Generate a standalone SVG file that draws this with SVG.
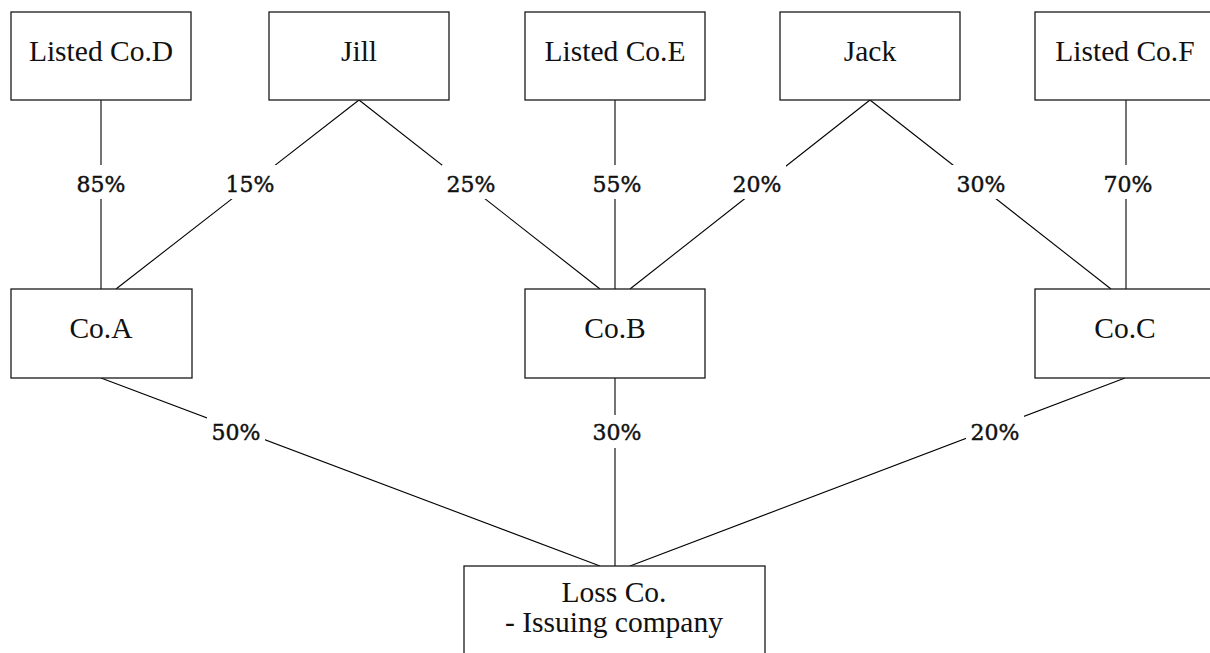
<svg xmlns="http://www.w3.org/2000/svg" width="1210" height="653" viewBox="0 0 1210 653">
  <style>
    .box { fill: #ffffff; stroke: #1a1a1a; stroke-width: 1.3; }
    .name { font-family: "Liberation Serif", "Times New Roman", serif; font-size: 29.5px; fill: #111111; text-anchor: middle; }
    .link { stroke: #000000; stroke-width: 1.1; fill: none; }
    .pct-bg { fill: #ffffff; }
    .pct { font-family: "DejaVu Serif", "Liberation Serif", serif; font-size: 22px; fill: #111111; stroke: #111111; stroke-width: 0.45; text-anchor: middle; }
  </style>
  <rect width="1210" height="653" fill="#ffffff"/>

  <!-- ownership links -->
  <g id="connectors">
    <line class="link" x1="101" y1="100" x2="101" y2="289"/>
    <line class="link" x1="359" y1="100" x2="116" y2="289"/>
    <line class="link" x1="359" y1="100" x2="600" y2="289"/>
    <line class="link" x1="615" y1="100" x2="615" y2="289"/>
    <line class="link" x1="870" y1="100" x2="630" y2="289"/>
    <line class="link" x1="870" y1="100" x2="1111" y2="289"/>
    <line class="link" x1="1126" y1="100" x2="1126" y2="289"/>
    <line class="link" x1="101" y1="378" x2="600" y2="566"/>
    <line class="link" x1="615" y1="378" x2="615" y2="566"/>
    <line class="link" x1="1125" y1="378" x2="630" y2="566"/>

    <!-- percentage labels on white backing -->
    <g id="labels">
      <rect class="pct-bg" x="72" y="165" width="58" height="34"/>
      <text class="pct" x="101" y="192">85%</text>
      <rect class="pct-bg" x="221" y="165" width="58" height="34"/>
      <text class="pct" x="250" y="192">15%</text>
      <rect class="pct-bg" x="442" y="165" width="58" height="34"/>
      <text class="pct" x="471" y="192">25%</text>
      <rect class="pct-bg" x="588" y="165" width="58" height="34"/>
      <text class="pct" x="617" y="192">55%</text>
      <rect class="pct-bg" x="728" y="165" width="58" height="34"/>
      <text class="pct" x="757" y="192">20%</text>
      <rect class="pct-bg" x="952" y="165" width="58" height="34"/>
      <text class="pct" x="981" y="192">30%</text>
      <rect class="pct-bg" x="1099" y="165" width="58" height="34"/>
      <text class="pct" x="1128" y="192">70%</text>
      <rect class="pct-bg" x="207" y="415" width="58" height="33"/>
      <text class="pct" x="236" y="440">50%</text>
      <rect class="pct-bg" x="588" y="415" width="58" height="33"/>
      <text class="pct" x="617" y="440">30%</text>
      <rect class="pct-bg" x="966" y="415" width="58" height="33"/>
      <text class="pct" x="995" y="440">20%</text>
    </g>
  </g>

  <!-- top row -->
  <g id="listed-co-d">
    <rect class="box" x="11" y="12" width="180" height="88"/>
    <text class="name" x="101" y="61">Listed Co.D</text>
  </g>
  <g id="jill">
    <rect class="box" x="269" y="12" width="180" height="88"/>
    <text class="name" x="359" y="61">Jill</text>
  </g>
  <g id="listed-co-e">
    <rect class="box" x="525" y="12" width="180" height="88"/>
    <text class="name" x="615" y="61">Listed Co.E</text>
  </g>
  <g id="jack">
    <rect class="box" x="780" y="12" width="180" height="88"/>
    <text class="name" x="870" y="61">Jack</text>
  </g>
  <g id="listed-co-f">
    <rect class="box" x="1035" y="12" width="180" height="88"/>
    <text class="name" x="1125" y="61">Listed Co.F</text>
  </g>

  <!-- middle row -->
  <g id="co-a">
    <rect class="box" x="11" y="289" width="181" height="89"/>
    <text class="name" x="101" y="338">Co.A</text>
  </g>
  <g id="co-b">
    <rect class="box" x="525" y="289" width="180" height="89"/>
    <text class="name" x="615" y="338">Co.B</text>
  </g>
  <g id="co-c">
    <rect class="box" x="1035" y="289" width="180" height="89"/>
    <text class="name" x="1125" y="338">Co.C</text>
  </g>

  <!-- issuer -->
  <g id="loss-co">
    <rect class="box" x="464" y="566" width="301" height="100"/>
    <text class="name" x="614" y="602">Loss Co.</text>
    <text class="name" x="614" y="632">- Issuing company</text>
  </g>
</svg>
